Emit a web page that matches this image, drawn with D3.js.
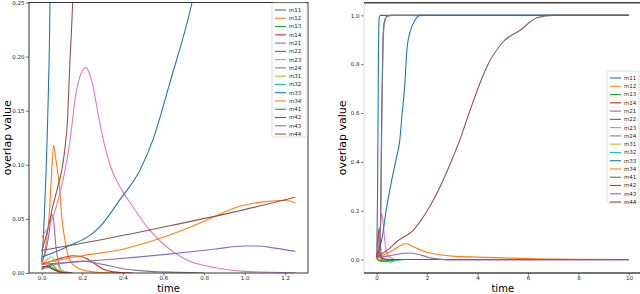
<!DOCTYPE html>
<html>
<head>
<meta charset="utf-8">
<script src="https://cdn.jsdelivr.net/npm/d3@7"></script>
<style>
  body { margin: 0; background: #fff; }
  svg { display: block; font-family: "DejaVu Sans", sans-serif; }
</style>
</head>
<body>
<div id="chart"></div>
<script>
// series names (same order in both legends)
const names = ["m11","m12","m13","m14","m21","m22","m23","m24",
               "m31","m32","m33","m34","m41","m42","m43","m44"];
const palette = ["#1f77b4","#ff7f0e","#2ca02c","#d62728","#9467bd",
                 "#8c564b","#e377c2","#7f7f7f","#bcbd22","#17becf"];

// ---- left panel: [time, overlap] ----
const leftM11 = [[0,0.01],[0.01,0.04],[0.02,0.085],[0.027,0.125],[0.032,0.16],[0.038,0.21],[0.041,0.25],[0.045,0.3]];
const leftM12 = [[0,0.008],[0.02,0.025],[0.04,0.061],[0.049,0.093],[0.059,0.118],[0.07,0.105],[0.089,0.077],[0.1,0.05],[0.114,0.031],[0.138,0.012],[0.173,0.005],[0.25,0.001],[0.35,0]];
const leftM13 = [[0,0.004],[0.03,0.007],[0.05,0.008],[0.07,0.004],[0.1,0.001],[0.15,0]];
const leftM14 = [[0,0.008],[0.05,0.011],[0.1,0.014],[0.15,0.016],[0.2,0.015],[0.25,0.01],[0.3,0.004],[0.35,0.001],[0.45,0]];
const leftM21 = [[0,0.01],[0.02,0.02],[0.035,0.035],[0.05,0.054],[0.058,0.05],[0.07,0.025],[0.085,0.008],[0.1,0.002],[0.15,0]];
const leftM22 = [[0,0.02],[0.03,0.04],[0.054,0.061],[0.08,0.08],[0.099,0.095],[0.114,0.114],[0.128,0.144],[0.138,0.19],[0.153,0.253],[0.16,0.3]];
const leftM23 = [[0,0.033],[0.07,0.06],[0.138,0.12],[0.17,0.167],[0.217,0.19],[0.25,0.175],[0.28,0.145],[0.31,0.118],[0.34,0.098],[0.385,0.08],[0.45,0.061],[0.53,0.04],[0.617,0.024],[0.716,0.012],[0.864,0.0046],[1.0,0.0015],[1.25,0.0003]];
const leftM24 = [[0,0.005],[0.1,0.009],[0.2,0.011],[0.3,0.008],[0.4,0.004],[0.5,0.002],[0.6,0.001],[0.8,0]];
const leftM31 = [[0,0.008],[0.03,0.013],[0.05,0.015],[0.07,0.01],[0.1,0.002],[0.15,0]];
const leftM32 = [[0,0.004],[0.03,0.005],[0.06,0.003],[0.1,0.0005],[0.15,0]];
const leftM33 = [[0,0.0148],[0.123,0.024],[0.286,0.0426],[0.385,0.0676],[0.484,0.095],[0.548,0.123],[0.632,0.176],[0.741,0.25],[0.78,0.285]];
const leftM34 = [[0,0.009],[0.2,0.016],[0.4,0.022],[0.55,0.03],[0.7,0.04],[0.85,0.052],[0.95,0.06],[1.1,0.066],[1.2,0.067],[1.25,0.065]];
const leftM41 = [[0,0.003],[0.02,0.006],[0.04,0.006],[0.07,0.003],[0.1,0.0005],[0.15,0]];
const leftM42 = [[0,0.006],[0.03,0.006],[0.06,0.003],[0.1,0.0005],[0.15,0]];
const leftM43 = [[0,0.008],[0.3,0.012],[0.6,0.017],[0.85,0.022],[1.0,0.025],[1.06,0.025],[1.15,0.023],[1.25,0.02]];
const leftM44 = [[0,0.021],[0.3,0.031],[0.59,0.042],[0.94,0.056],[1.25,0.07]];

// ---- right panel ----
const rightM11 = [[0,0.01],[0.04,0.3],[0.07,0.8],[0.1,0.99],[0.15,1],[10,1]];
const rightM12 = [[0,0.01],[0.04,0.08],[0.07,0.12],[0.1,0.06],[0.15,0.01],[0.3,0],[10,0]];
const rightM13 = [[0,0.005],[0.1,-0.005],[0.3,-0.008],[0.5,-0.005],[1,0],[10,0]];
const rightM14 = [[0,0.01],[0.05,0.06],[0.1,0.13],[0.14,0.08],[0.2,0.01],[0.4,0],[10,0]];
const rightM21 = [[0,0.01],[0.05,0.05],[0.1,0.02],[0.2,0],[10,0]];
const rightM22 = [[0,0.02],[0.12,0.06],[0.16,0.2],[0.2,0.6],[0.25,0.9],[0.3,0.97],[0.4,0.995],[0.6,1],[10,1]];
const rightM23 = [[0,0.03],[0.1,0.08],[0.17,0.16],[0.2,0.19],[0.25,0.16],[0.32,0.08],[0.4,0.03],[0.5,0.01],[0.8,0],[10,0]];
const rightM24 = [[0,0.01],[0.15,0.1],[0.2,0.5],[0.25,0.85],[0.3,0.96],[0.4,0.995],[0.6,1],[10,1]];
const rightM31 = [[0,0.01],[0.05,0.02],[0.1,0.01],[0.2,0],[10,0]];
const rightM32 = [[0,0.005],[0.2,-0.008],[0.5,-0.01],[0.8,-0.003],[1.2,0],[10,0]];
const rightM33 = [[0,0.01],[0.1,0.04],[0.2,0.08],[0.4,0.216],[0.6,0.326],[0.79,0.42],[0.92,0.49],[1.0,0.585],[1.12,0.72],[1.2,0.86],[1.32,0.93],[1.52,0.98],[1.72,1.0],[10,1]];
const rightM34 = [[0,0.005],[0.3,0.02],[0.6,0.035],[0.9,0.055],[1.15,0.066],[1.5,0.05],[2,0.03],[2.5,0.02],[3,0.014],[4,0.01],[5,0.007],[6,0.004],[7,0.002],[8,0.001],[10,0]];
const rightM41 = [[0,0.005],[0.1,-0.003],[0.3,-0.005],[0.6,-0.002],[1,0],[10,0]];
const rightM42 = [[0,0.01],[0.1,0.03],[0.2,0.005],[0.5,0],[10,0]];
const rightM43 = [[0,0.008],[0.5,0.015],[1.0,0.025],[1.3,0.027],[1.7,0.02],[2.1,0.008],[2.5,0.002],[3,-0.002],[10,-0.002]];
const rightM44 = [[0,0.01],[0.5,0.045],[0.79,0.073],[1.45,0.12],[2.1,0.216],[2.64,0.326],[3.03,0.42],[3.3,0.49],[3.7,0.61],[4.37,0.79],[5.0,0.89],[5.7,0.94],[6.36,0.99],[7,1],[10,1]];

const leftSeries = [leftM11,leftM12,leftM13,leftM14,leftM21,leftM22,leftM23,leftM24,
                    leftM31,leftM32,leftM33,leftM34,leftM41,leftM42,leftM43,leftM44];
const rightSeries = [rightM11,rightM12,rightM13,rightM14,rightM21,rightM22,rightM23,rightM24,
                     rightM31,rightM32,rightM33,rightM34,rightM41,rightM42,rightM43,rightM44];

const leftXTicks = [0, 0.2, 0.4, 0.6, 0.8, 1.0, 1.2];
const leftYTicks = [0, 0.05, 0.10, 0.15, 0.20, 0.25];
const rightXTicks = [0, 2, 4, 6, 8, 10];
const rightYTicks = [0, 0.2, 0.4, 0.6, 0.8, 1.0];

const svg = d3.select("#chart").append("svg")
    .attr("width", 640)
    .attr("height", 294);

const color = i => palette[i % 10];

function drawPanel(opt) {
    const x = d3.scaleLinear().domain(opt.xDomain).range(opt.xRange);
    const y = d3.scaleLinear().domain(opt.yDomain).range(opt.yRange);
    const g = svg.append("g");

    const clipId = "clip-" + opt.id;
    svg.append("clipPath").attr("id", clipId)
      .append("rect")
        .attr("x", opt.xRange[0]).attr("y", opt.yRange[1])
        .attr("width", opt.xRange[1] - opt.xRange[0])
        .attr("height", opt.yRange[0] - opt.yRange[1]);

    // Draw the lines
    const line = d3.line()
        .x(d => x(d[0]))
        .y(d => y(d[1]))
        .curve(d3.curveMonotoneX);

    const lines = g.append("g").attr("clip-path", `url(#${clipId})`);
    opt.series.forEach((s, i) => {
        lines.append("path")
            .datum(s)
            .attr("fill", "none")
            .attr("stroke", color(i))
            .attr("stroke-width", 1.1)
            .attr("d", line);
    });

    // Axes
    const xAxis = g.append("g")
        .attr("transform", `translate(0,${opt.yRange[0]})`)
        .call(d3.axisBottom(x).tickValues(opt.xTicks).tickFormat(d3.format(opt.xFormat))
              .tickSize(2.5).tickPadding(1));
    const yAxis = g.append("g")
        .attr("transform", `translate(${opt.xRange[0]},0)`)
        .call(d3.axisLeft(y).tickValues(opt.yTicks).tickFormat(d3.format(opt.yFormat))
              .tickSize(3).tickPadding(1.5));
    [xAxis, yAxis].forEach(a => {
        a.select(".domain").remove();
        a.selectAll("line").attr("stroke", "#333").attr("stroke-width", 0.7);
        a.selectAll("text").attr("font-size", 5.5).attr("fill", "#222")
            .attr("font-family", "DejaVu Sans");
    });

    // Spines
    const [x0, x1] = opt.xRange, [yb, yt] = opt.yRange;
    if (opt.boxed) {
        g.append("rect")
            .attr("x", x0).attr("y", yt)
            .attr("width", x1 - x0).attr("height", yb - yt)
            .attr("fill", "none").attr("stroke", "#333").attr("stroke-width", 1);
    } else {
        g.append("line").attr("x1", x0).attr("x2", x0).attr("y1", yt).attr("y2", yb)
            .attr("stroke", "#ddd").attr("stroke-width", 1);
        g.append("line").attr("x1", x0).attr("x2", x1).attr("y1", yt).attr("y2", yt)
            .attr("stroke", "#444").attr("stroke-width", 1.5);
        g.append("line").attr("x1", x0).attr("x2", x1).attr("y1", yb).attr("y2", yb)
            .attr("stroke", "#444").attr("stroke-width", 1.5);
    }

    // Axis labels
    g.append("text")
        .attr("x", (x0 + x1) / 2)
        .attr("y", 291.6)
        .attr("text-anchor", "middle")
        .attr("font-size", 10)
        .text("time");
    g.append("text")
        .attr("transform", "rotate(-90)")
        .attr("x", -(yb + yt) / 2)
        .attr("y", opt.yLabelX)
        .attr("text-anchor", "middle")
        .attr("font-size", 11)
        .text("overlap value");

    // Legend
    const lg = g.append("g").attr("transform", `translate(${opt.legend.x},${opt.legend.y})`);
    lg.append("rect")
        .attr("width", opt.legend.w).attr("height", opt.legend.h)
        .attr("rx", 1.5)
        .attr("fill", "#fff").attr("fill-opacity", 0.85)
        .attr("stroke", "#d5d5d5").attr("stroke-width", 0.8);
    names.forEach((n, i) => {
        const yy = 7 + i * 8.27;
        lg.append("line")
            .attr("x1", 3).attr("x2", 14)
            .attr("y1", yy).attr("y2", yy)
            .attr("stroke", color(i)).attr("stroke-width", 1.1);
        lg.append("text")
            .attr("x", 17).attr("y", yy)
            .attr("dy", "0.35em")
            .attr("font-size", 5.5)
            .attr("fill", "#222")
            .text(n);
    });
}

drawPanel({
    id: "left", series: leftSeries,
    xDomain: [-0.0625, 1.3125], xRange: [29, 308],
    yDomain: [0, 0.25], yRange: [273, 2.5],
    xTicks: leftXTicks, yTicks: leftYTicks, xFormat: ".1f", yFormat: ".2f",
    boxed: true, yLabelX: 11,
    legend: {x: 272, y: 3, w: 35, h: 134}
});

drawPanel({
    id: "right", series: rightSeries,
    xDomain: [-0.5, 10.5], xRange: [364, 641.5],
    yDomain: [-0.055, 1.052], yRange: [273, 2.7],
    xTicks: rightXTicks, yTicks: rightYTicks, xFormat: "d", yFormat: ".1f",
    boxed: false, yLabelX: 346,
    legend: {x: 607, y: 71, w: 32, h: 132}
});
</script>
</body>
</html>
